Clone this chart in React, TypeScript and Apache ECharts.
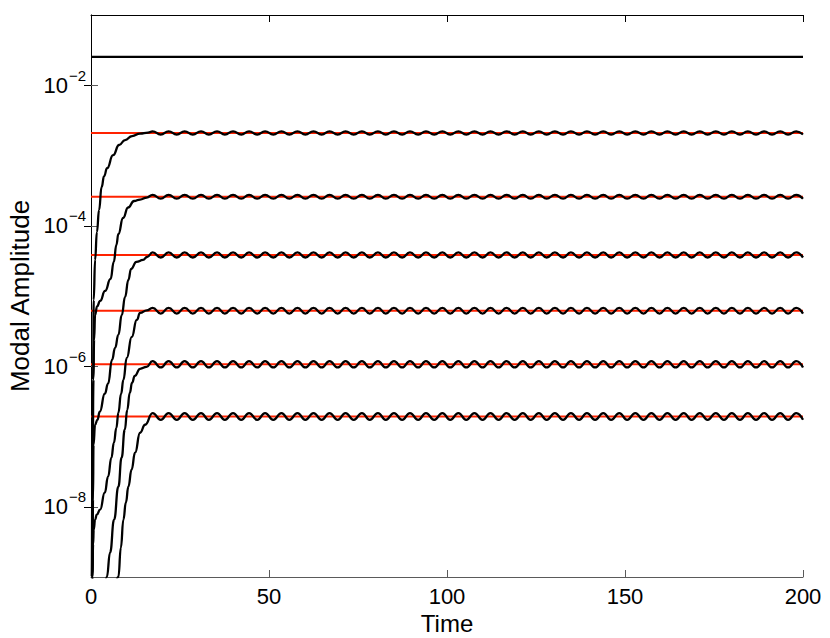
import React, { useEffect, useRef } from "react";
import * as echarts from "echarts";

// ---- axis ticks ----
const xTickInterval = 50;
const yTickValues = [1e-8, 1e-6, 1e-4, 1e-2];

// ---- constant mode (black) and target levels (red) ----
const mode1Level = 2.53e-2;
const redLevels = [2.096e-3, 2.588e-4, 3.838e-5, 6.18e-6, 1.066e-6, 1.93e-7];

// ---- oscillation extrema ----
const oscHigh = [2.21e-3, 2.76e-4, 4.17e-5, 6.79e-6, 1.182e-6, 2.156e-7];
const oscLow = [1.988e-3, 2.426e-4, 3.533e-5, 5.62e-6, 9.61e-7, 1.728e-7];
const oscTimes = [
  17.3, 19.6, 21.8, 24.1, 26.3, 28.6, 30.9, 33.1, 35.4, 37.6, 39.9, 42.2, 44.4,
  46.7, 48.9, 51.2, 53.5, 55.7, 58.0, 60.2, 62.5, 64.8, 67.0, 69.3, 71.5, 73.8,
  76.1, 78.3, 80.6, 82.8, 85.1, 87.4, 89.6, 91.9, 94.1, 96.4, 98.7, 100.9, 103.2,
  105.4, 107.7, 110.0, 112.2, 114.5, 116.7, 119.0, 121.3, 123.5, 125.8, 128.0,
  130.3, 132.6, 134.8, 137.1, 139.3, 141.6, 143.9, 146.1, 148.4, 150.6, 152.9,
  155.2, 157.4, 159.7, 161.9, 164.2, 166.5, 168.7, 171.0, 173.2, 175.5, 177.8,
  180.0, 182.3, 184.5, 186.8, 189.1, 191.3, 193.6, 195.8, 198.1, 200.0,
];

// ---- growth phases of the six modes [time, amplitude] ----
const riseA = [
  [0.06, 1e-10], [0.2, 1e-9], [0.39, 2.43e-8], [0.59, 6.41e-7], [0.76, 8.79e-6],
  [1.15, 3.26e-5], [1.66, 8.15e-5], [2.27, 1.68e-4], [2.98, 3.56e-4],
  [3.68, 5.09e-4], [4.52, 6.62e-4], [6.2, 1.01e-3], [7.89, 1.41e-3],
  [9.57, 1.66e-3], [11.54, 1.89e-3], [13.78, 2.05e-3], [16.03, 2.12e-3],
];
const riseB = [
  [0.21, 1e-10], [0.31, 1e-9], [0.48, 4.68e-8], [0.67, 6.41e-7], [0.87, 2.38e-6],
  [1.15, 5.38e-6], [1.71, 7.11e-6], [2.56, 8.51e-6], [3.96, 1.18e-5],
  [5.5, 1.75e-5], [6.4, 3.06e-5], [7.13, 5.32e-5], [7.69, 7.64e-5],
  [9.01, 1.29e-4], [10.42, 1.82e-4], [12.1, 2.25e-4], [13.78, 2.36e-4],
  [15.67, 2.52e-4],
];
const riseC = [
  [0.29, 1e-10], [0.42, 1e-9], [0.56, 1.27e-8], [0.7, 7.64e-8], [1.15, 1.47e-7],
  [1.8, 1.73e-7], [2.47, 2.25e-7], [3.87, 4.06e-7], [4.8, 5.64e-7],
  [5.92, 1.24e-6], [6.77, 1.83e-6], [7.69, 2.8e-6], [8.65, 5.38e-6],
  [9.57, 9.7e-6], [10.5, 1.69e-5], [11.26, 2.43e-5], [12.75, 3.06e-5],
  [14.63, 3.26e-5], [15.75, 3.59e-5],
];
const riseD = [
  [0, 1.2e-10], [0.39, 1e-9], [0.59, 2.9e-9], [0.76, 4.73e-9], [1.15, 6.56e-9],
  [1.63, 7.73e-9], [2.56, 9.12e-9], [3.87, 1.59e-8], [4.8, 2.69e-8],
  [5.73, 5.0e-8], [6.43, 8.17e-8], [7.13, 1.33e-7], [7.69, 2.18e-7],
  [8.45, 4.06e-7], [9.1, 6.41e-7], [10.05, 1.32e-6], [11.45, 2.62e-6],
  [12.86, 4.57e-6], [13.78, 5.74e-6], [15.67, 6.24e-6],
];
const riseE = [
  [3.56, 5e-10], [4.44, 1e-9], [5.36, 2.23e-9], [6.49, 6.56e-9], [7.69, 1.93e-8],
  [8.59, 4.99e-8], [9.49, 1.25e-7], [10.19, 2.4e-7], [10.89, 4.19e-7],
  [11.54, 5.82e-7], [12.3, 7.31e-7], [13.78, 9.2e-7], [15.61, 9.82e-7],
];
const riseF = [
  [6.16, 5e-10], [7.69, 1e-9], [8.39, 2.62e-9], [9.1, 6.56e-9], [9.8, 1.15e-8],
  [10.5, 1.93e-8], [11.4, 3.37e-8], [12.38, 5.87e-8], [13.78, 1.13e-7],
  [15.19, 1.47e-7],
];

const FONT = '"Liberation Sans", Arial, Helvetica, sans-serif';

export default function App() {
  const ref = useRef<HTMLDivElement>(null);

  useEffect(() => {
    if (!ref.current) return;
    const chart = echarts.init(ref.current, null, { renderer: "svg" });

    const risers = [riseA, riseB, riseC, riseD, riseE, riseF];
    const blackCurves = risers.map((rise, i) => [
      ...rise,
      ...oscTimes.map((t, k) => [t, k % 2 === 0 ? oscHigh[i] : oscLow[i]]),
    ]);

    const redSeries = redLevels.map((v) => ({
      type: "line",
      data: [
        [0, v],
        [200, v],
      ],
      showSymbol: false,
      symbol: "none",
      lineStyle: { color: "#ff2200", width: 2 },
      silent: true,
    }));

    const blackSeries = blackCurves.map((d) => ({
      type: "line",
      data: d,
      showSymbol: false,
      symbol: "none",
      smooth: 0.5,
      smoothMonotone: "x",
      lineStyle: { color: "#000000", width: 2.3 },
      silent: true,
    }));

    const constSeries = {
      type: "line",
      data: [
        [0, mode1Level],
        [200, mode1Level],
      ],
      showSymbol: false,
      symbol: "none",
      lineStyle: { color: "#000000", width: 2.3 },
      silent: true,
    };

    const yLabelFormatter = (v: number) => {
      const e = Math.round(Math.log10(v));
      return `{s|\u2212${-e}}\n{b|10}{sp|}`;
    };

    chart.setOption({
      animation: false,
      backgroundColor: "#ffffff",
      textStyle: { fontFamily: FONT },
      grid: {
        left: 91,
        top: 15,
        right: 27,
        bottom: 61,
        containLabel: false,
        outerBoundsMode: "none",
      },
      xAxis: [
        {
          type: "value",
          min: 0,
          max: 200,
          interval: xTickInterval,
          position: "bottom",
          name: "Time",
          nameLocation: "middle",
          nameGap: 32,
          nameTextStyle: { fontSize: 24, color: "#000", fontFamily: FONT },
          axisLine: { show: true, lineStyle: { color: "#5a5a5a", width: 1 } },
          axisTick: { show: true, inside: true, length: 7, lineStyle: { color: "#5a5a5a" } },
          axisLabel: { show: true, fontSize: 22, color: "#000", margin: 8, fontFamily: FONT },
          splitLine: { show: false },
        },
        {
          type: "value",
          min: 0,
          max: 200,
          interval: xTickInterval,
          position: "top",
          axisLine: { show: true, lineStyle: { color: "#000", width: 1 } },
          axisTick: { show: true, inside: true, length: 7, lineStyle: { color: "#000" } },
          axisLabel: { show: false },
          splitLine: { show: false },
        },
      ],
      yAxis: [
        {
          type: "log",
          logBase: 10,
          min: 1e-9,
          max: 1e-1,
          position: "left",
          name: "Modal Amplitude",
          nameLocation: "middle",
          nameGap: 58,
          nameTextStyle: { fontSize: 26, color: "#000", fontFamily: FONT },
          axisLine: { show: true, lineStyle: { color: "#5a5a5a", width: 1 } },
          axisTick: {
            show: true,
            inside: true,
            length: 7,
            customValues: yTickValues,
            lineStyle: { color: "#5a5a5a" },
          },
          minorTick: { show: false },
          axisLabel: {
            show: true,
            customValues: yTickValues,
            margin: 5,
            formatter: yLabelFormatter,
            rich: {
              s: {
                fontSize: 15,
                lineHeight: 12,
                color: "#000",
                fontFamily: FONT,
              },
              b: {
                fontSize: 22,
                lineHeight: 20,
                color: "#000",
                fontFamily: FONT,
                padding: [0, 0, 12, 0],
              },
              sp: {
                width: 18,
                lineHeight: 20,
                padding: [0, 0, 12, 0],
              },
            },
          },
          splitLine: { show: false },
        },
        {
          type: "log",
          logBase: 10,
          min: 1e-9,
          max: 1e-1,
          position: "right",
          axisLine: { show: true, lineStyle: { color: "#000", width: 1 } },
          axisTick: {
            show: true,
            inside: true,
            length: 7,
            customValues: yTickValues,
            lineStyle: { color: "#000" },
          },
          axisLabel: { show: false },
          splitLine: { show: false },
        },
      ],
      series: [...redSeries, constSeries, ...blackSeries],
    });

    return () => {
      chart.dispose();
    };
  }, []);

  return (
    <div
      ref={ref}
      style={{ position: "fixed", left: 0, top: 0, width: 830, height: 638, background: "#fff" }}
    />
  );
}
